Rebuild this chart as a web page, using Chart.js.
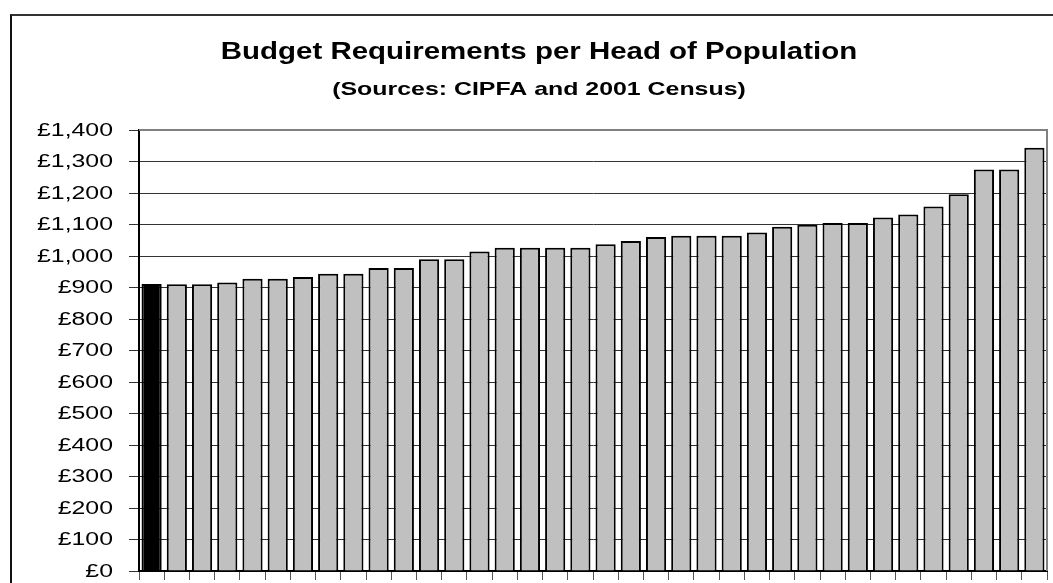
<!DOCTYPE html>
<html>
<head>
<meta charset="utf-8">
<script src="https://cdn.jsdelivr.net/npm/chart.js@4/dist/chart.umd.min.js"></script>
<style>
    html, body { margin: 0; padding: 0; background: #fff; overflow: hidden; }
    #wrap { position: relative; width: 1053px; height: 583px; }
    #frame {
        position: absolute; left: 10px; top: 14px; width: 1100px; height: 600px;
        border-top: 2px solid #333; border-left: 2px solid #111;
    }
    #myChart { position: absolute; left: 0; top: 0; }
</style>
</head>
<body>
<div id="wrap">
    <div id="frame"></div>
    <canvas id="myChart" width="1053" height="583"></canvas>
</div>
<script>
var TITLE = 'Budget Requirements per Head of Population';
var SUBTITLE = '(Sources: CIPFA and 2001 Census)';

// budget requirement per head, sorted low to high (first one is ours)
var BUDGET = [
    911, 910, 910, 916, 928, 928, 933, 944, 944, 962, 962, 990,
    990, 1014, 1026, 1026, 1026, 1026, 1037, 1048, 1060, 1064, 1064, 1064,
    1075, 1093, 1099, 1105, 1105, 1122, 1132, 1157, 1196, 1275, 1275, 1344
];
var AUTHORITIES = BUDGET.map(function(v, i) { return 'Authority ' + (i + 1); });
var HIGHLIGHT = 0;

var Y_MIN = 0;
var Y_MAX = 1400;
var Y_STEP = 100;

function money(n) {
    var s = String(Math.round(n));
    return '£' + s.replace(/\B(?=(\d{3})+(?!\d))/g, ',');
}

// draws text squashed/stretched sideways, anchored at x,y
function wideText(ctx, text, x, y, sx) {
    ctx.save();
    ctx.translate(x, y);
    ctx.scale(sx, 1);
    ctx.fillText(text, 0, 0);
    ctx.restore();
}

var plotFrame = {
    id: 'plotFrame',
    beforeDatasetsDraw: function(chart) {
        var ctx = chart.ctx;
        var a = chart.chartArea;
        ctx.save();
        ctx.strokeStyle = '#808080';
        ctx.lineWidth = 2;
        ctx.beginPath();
        ctx.moveTo(a.left, a.top);
        ctx.lineTo(a.right, a.top);
        ctx.lineTo(a.right, a.bottom);
        ctx.stroke();
        ctx.restore();
    },
    afterDraw: function(chart) {
        var ctx = chart.ctx;
        var y = chart.scales.y;
        ctx.save();
        ctx.fillStyle = '#000';

        ctx.textAlign = 'center';
        ctx.textBaseline = 'alphabetic';
        ctx.font = 'bold 23px "Liberation Sans", Arial, sans-serif';
        wideText(ctx, TITLE, 539, 59, 1.28);
        ctx.font = 'bold 19px "Liberation Sans", Arial, sans-serif';
        wideText(ctx, SUBTITLE, 539, 95, 1.31);

        // value axis labels
        ctx.textAlign = 'right';
        ctx.textBaseline = 'middle';
        ctx.font = '18px "Liberation Sans", Arial, sans-serif';
        y.ticks.forEach(function(t, i) {
            wideText(ctx, money(t.value), 113, y.getPixelForTick(i) + 1, 1.38);
        });
        ctx.restore();
    }
};

var ctx = document.getElementById('myChart').getContext('2d');
var chart = new Chart(ctx, {
    type: 'bar',
    data: {
        labels: AUTHORITIES,
        datasets: [{
            data: BUDGET,
            backgroundColor: BUDGET.map(function(v, i) { return i === HIGHLIGHT ? '#000000' : '#C0C0C0'; }),
            borderColor: '#000',
            borderWidth: 2,
            barPercentage: 0.8,
            categoryPercentage: 1
        }]
    },
    options: {
        responsive: false,
        animation: false,
        devicePixelRatio: 1,
        layout: { padding: { top: 130, right: 6, bottom: 3, left: 0 } },
        plugins: {
            legend: { display: false },
            title: { display: false },
            tooltip: { enabled: false }
        },
        scales: {
            x: {
                grid: {
                    display: true,
                    drawOnChartArea: false,
                    drawTicks: true,
                    tickLength: 9,
                    color: '#555',
                    offset: true
                },
                border: { display: true, color: '#000', width: 2 },
                ticks: { display: false }
            },
            y: {
                min: Y_MIN,
                max: Y_MAX,
                ticks: { display: false, stepSize: Y_STEP },
                grid: { color: '#333', lineWidth: 1, drawTicks: true, tickLength: 10 },
                border: { display: true, color: '#000', width: 2 },
                afterFit: function(scale) { scale.width = 139; }
            }
        }
    },
    plugins: [plotFrame]
});
</script>
</body>
</html>
